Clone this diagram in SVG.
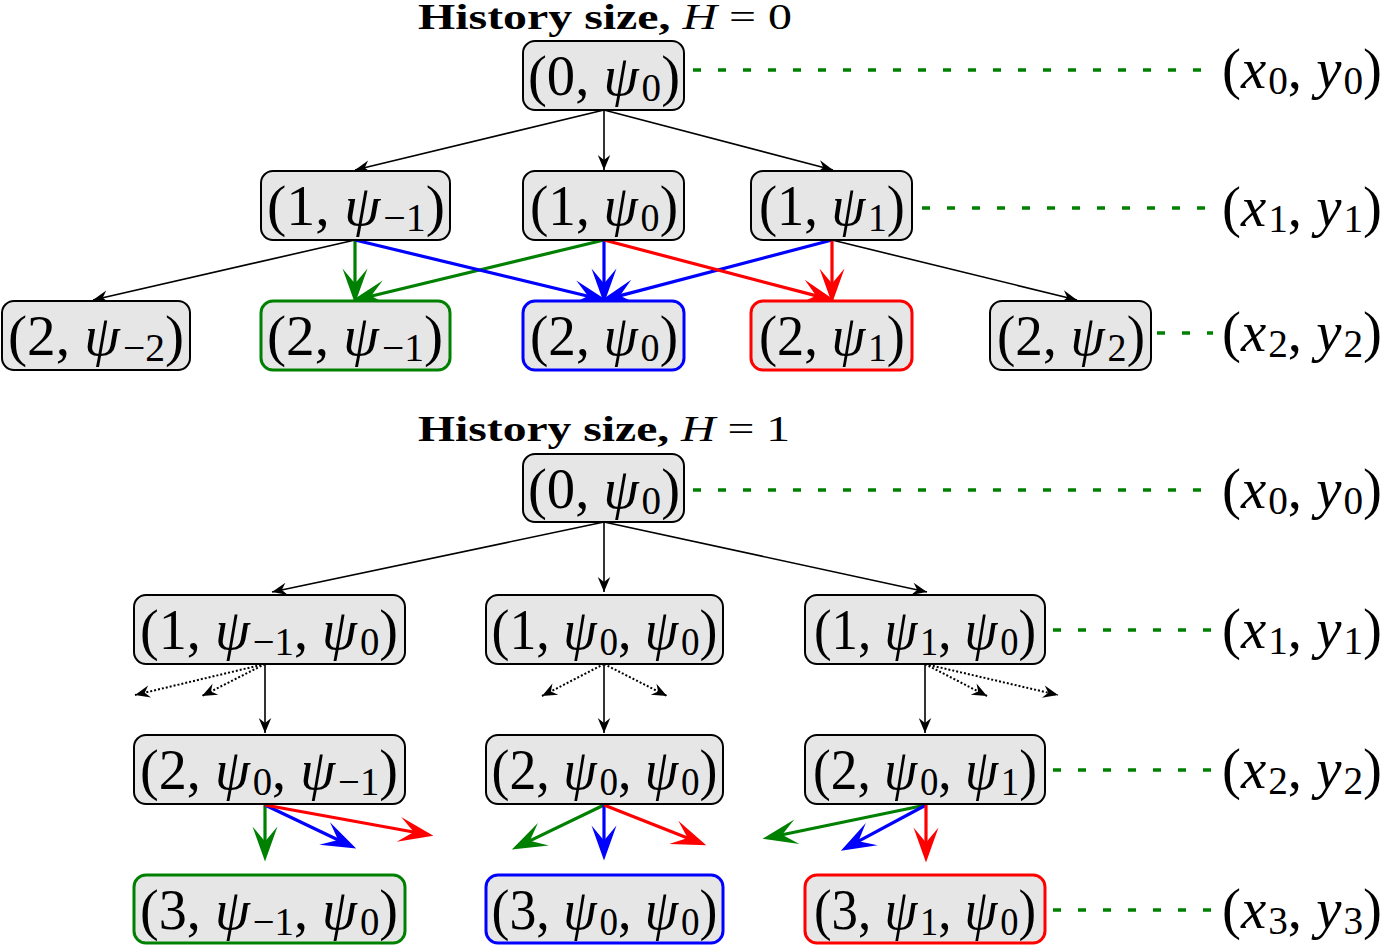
<svg xmlns="http://www.w3.org/2000/svg" width="1384" height="946" viewBox="0 0 1384 946">
<style>
.n{fill:#e6e6e6;stroke:#000;stroke-width:2}
.ng{fill:#e6e6e6;stroke:#008000;stroke-width:3}
.nb{fill:#e6e6e6;stroke:#0000ff;stroke-width:3}
.nr{fill:#e6e6e6;stroke:#ff0000;stroke-width:3}
.t{font-family:"Liberation Serif",serif;font-size:58px;text-anchor:middle;fill:#000}
.l{font-family:"Liberation Serif",serif;font-size:58px;fill:#000}
.ttl{font-family:"Liberation Serif",serif;font-size:35px;fill:#000}
.i{font-style:italic}
.s{font-size:40px}
.k{stroke:#000;stroke-width:1.6;fill:none}
.d{stroke:#000;stroke-width:2;fill:none;stroke-dasharray:2 2}
.g{stroke:#008000;stroke-width:3.2;fill:none}
.b{stroke:#0000ff;stroke-width:3.2;fill:none}
.r{stroke:#ff0000;stroke-width:3.2;fill:none}
.gd{stroke:#008000;stroke-width:3.5;fill:none;stroke-dasharray:8 17}
</style>
<defs>
<marker id="ak" markerUnits="userSpaceOnUse" markerWidth="20" markerHeight="20" viewBox="-14 -8 16 16" refX="0" refY="0" orient="auto"><path d="M0,0 L-12,-5 L-8,0 L-12,5 Z" fill="#000"/></marker>
<marker id="ag" markerUnits="userSpaceOnUse" markerWidth="40" markerHeight="30" viewBox="-16 -12 32 24" refX="0" refY="0" orient="auto"><path d="M14,0 L-14,-10 L-2,0 L-14,10 Z" fill="#008000"/></marker>
<marker id="ab" markerUnits="userSpaceOnUse" markerWidth="40" markerHeight="30" viewBox="-16 -12 32 24" refX="0" refY="0" orient="auto"><path d="M14,0 L-14,-10 L-2,0 L-14,10 Z" fill="#0000ff"/></marker>
<marker id="ar" markerUnits="userSpaceOnUse" markerWidth="40" markerHeight="30" viewBox="-16 -12 32 24" refX="0" refY="0" orient="auto"><path d="M14,0 L-14,-10 L-2,0 L-14,10 Z" fill="#ff0000"/></marker>
</defs>

<text class="ttl" x="418" y="29" textLength="374" lengthAdjust="spacingAndGlyphs"><tspan font-weight="bold">History size, </tspan><tspan class="i">H</tspan> = 0</text>
<text class="ttl" x="418" y="441" textLength="372" lengthAdjust="spacingAndGlyphs"><tspan font-weight="bold">History size, </tspan><tspan class="i">H</tspan> = 1</text>

<g id="connectors">
<line class="k" x1="604" y1="110" x2="355" y2="170" marker-end="url(#ak)"/>
<line class="k" x1="604" y1="110" x2="604" y2="170" marker-end="url(#ak)"/>
<line class="k" x1="604" y1="110" x2="833" y2="170" marker-end="url(#ak)"/>
<line class="k" x1="355" y1="240" x2="93" y2="300" marker-end="url(#ak)"/>
<line class="k" x1="832" y1="240" x2="1077" y2="300" marker-end="url(#ak)"/>
<line class="g" x1="355" y1="240" x2="355" y2="286" marker-end="url(#ag)"/>
<line class="g" x1="604" y1="240" x2="368.6" y2="296.7" marker-end="url(#ag)"/>
<line class="b" x1="355" y1="240" x2="590.4" y2="296.7" marker-end="url(#ab)"/>
<line class="b" x1="604" y1="240" x2="604" y2="286" marker-end="url(#ab)"/>
<line class="b" x1="832" y1="240" x2="617.5" y2="296.4" marker-end="url(#ab)"/>
<line class="r" x1="604" y1="240" x2="818.5" y2="296.4" marker-end="url(#ar)"/>
<line class="r" x1="832" y1="240" x2="832" y2="286" marker-end="url(#ar)"/>
<line class="k" x1="604" y1="522" x2="272" y2="592" marker-end="url(#ak)"/>
<line class="k" x1="604" y1="522" x2="604" y2="592" marker-end="url(#ak)"/>
<line class="k" x1="604" y1="522" x2="927" y2="592" marker-end="url(#ak)"/>
<line class="k" x1="265" y1="664" x2="265" y2="733" marker-end="url(#ak)"/>
<line class="k" x1="604" y1="664" x2="604" y2="733" marker-end="url(#ak)"/>
<line class="k" x1="925" y1="664" x2="925" y2="733" marker-end="url(#ak)"/>
<line class="d" x1="265" y1="664" x2="135" y2="695" marker-end="url(#ak)"/>
<line class="d" x1="265" y1="664" x2="202" y2="696" marker-end="url(#ak)"/>
<line class="d" x1="604" y1="664" x2="542" y2="696" marker-end="url(#ak)"/>
<line class="d" x1="604" y1="664" x2="667" y2="696" marker-end="url(#ak)"/>
<line class="d" x1="925" y1="664" x2="987" y2="696" marker-end="url(#ak)"/>
<line class="d" x1="925" y1="664" x2="1058" y2="695" marker-end="url(#ak)"/>
<line class="g" x1="265" y1="805" x2="265" y2="844" marker-end="url(#ag)"/>
<line class="b" x1="265" y1="805" x2="340.4" y2="841" marker-end="url(#ab)"/>
<line class="r" x1="265" y1="805" x2="416.2" y2="832.5" marker-end="url(#ar)"/>
<line class="g" x1="604" y1="805" x2="527.6" y2="841.9" marker-end="url(#ag)"/>
<line class="b" x1="604" y1="805" x2="604" y2="843" marker-end="url(#ab)"/>
<line class="r" x1="604" y1="805" x2="690" y2="838.9" marker-end="url(#ar)"/>
<line class="g" x1="926" y1="805" x2="779.7" y2="835.2" marker-end="url(#ag)"/>
<line class="b" x1="926" y1="805" x2="856.3" y2="842.4" marker-end="url(#ab)"/>
<line class="r" x1="926" y1="805" x2="926" y2="845" marker-end="url(#ar)"/>
<line class="gd" x1="693" y1="70" x2="1213" y2="70"/>
<line class="gd" x1="922" y1="208" x2="1213" y2="208"/>
<line class="gd" x1="1157" y1="333" x2="1213" y2="333"/>
<line class="gd" x1="693" y1="490" x2="1213" y2="490"/>
<line class="gd" x1="1053" y1="630" x2="1213" y2="630"/>
<line class="gd" x1="1053" y1="770" x2="1213" y2="770"/>
<line class="gd" x1="1053" y1="910" x2="1213" y2="910"/>
</g>

<g id="h0-root"><rect class="n" x="523" y="41" width="161" height="69" rx="12"/><text class="t" x="604" y="95" textLength="152" lengthAdjust="spacingAndGlyphs">(0, <tspan class="i">ψ</tspan><tspan class="s" dx="3" dy="6">0</tspan><tspan dy="-6">)</tspan></text></g>
<g id="h0-1m"><rect class="n" x="261" y="171" width="189" height="69" rx="12"/><text class="t" x="356" y="225" textLength="178" lengthAdjust="spacingAndGlyphs">(1, <tspan class="i">ψ</tspan><tspan class="s" dx="3" dy="6">−1</tspan><tspan dy="-6">)</tspan></text></g>
<g id="h0-10"><rect class="n" x="523" y="171" width="161" height="69" rx="12"/><text class="t" x="604" y="225" textLength="148" lengthAdjust="spacingAndGlyphs">(1, <tspan class="i">ψ</tspan><tspan class="s" dx="3" dy="6">0</tspan><tspan dy="-6">)</tspan></text></g>
<g id="h0-1p"><rect class="n" x="751" y="171" width="161" height="69" rx="12"/><text class="t" x="832" y="225" textLength="146" lengthAdjust="spacingAndGlyphs">(1, <tspan class="i">ψ</tspan><tspan class="s" dx="3" dy="6">1</tspan><tspan dy="-6">)</tspan></text></g>
<g id="h0-2mm"><rect class="n" x="2" y="301" width="188" height="69" rx="12"/><text class="t" x="96" y="355" textLength="176" lengthAdjust="spacingAndGlyphs">(2, <tspan class="i">ψ</tspan><tspan class="s" dx="3" dy="6">−2</tspan><tspan dy="-6">)</tspan></text></g>
<g id="h0-2m"><rect class="ng" x="261" y="301" width="189" height="69" rx="12"/><text class="t" x="355" y="355" textLength="176" lengthAdjust="spacingAndGlyphs">(2, <tspan class="i">ψ</tspan><tspan class="s" dx="3" dy="6">−1</tspan><tspan dy="-6">)</tspan></text></g>
<g id="h0-20"><rect class="nb" x="523" y="301" width="161" height="69" rx="12"/><text class="t" x="604" y="355" textLength="148" lengthAdjust="spacingAndGlyphs">(2, <tspan class="i">ψ</tspan><tspan class="s" dx="3" dy="6">0</tspan><tspan dy="-6">)</tspan></text></g>
<g id="h0-2p"><rect class="nr" x="751" y="301" width="161" height="69" rx="12"/><text class="t" x="832" y="355" textLength="146" lengthAdjust="spacingAndGlyphs">(2, <tspan class="i">ψ</tspan><tspan class="s" dx="3" dy="6">1</tspan><tspan dy="-6">)</tspan></text></g>
<g id="h0-2pp"><rect class="n" x="990" y="301" width="161" height="69" rx="12"/><text class="t" x="1071" y="355" textLength="148" lengthAdjust="spacingAndGlyphs">(2, <tspan class="i">ψ</tspan><tspan class="s" dx="3" dy="6">2</tspan><tspan dy="-6">)</tspan></text></g>

<g id="h1-root"><rect class="n" x="523" y="454" width="161" height="68" rx="12"/><text class="t" x="604" y="508" textLength="152" lengthAdjust="spacingAndGlyphs">(0, <tspan class="i">ψ</tspan><tspan class="s" dx="3" dy="6">0</tspan><tspan dy="-6">)</tspan></text></g>
<g id="h1-1m"><rect class="n" x="134" y="595" width="271" height="69" rx="12"/><text class="t" x="269" y="649" textLength="258" lengthAdjust="spacingAndGlyphs">(1, <tspan class="i">ψ</tspan><tspan class="s" dx="3" dy="6">−1</tspan><tspan dy="-6">, </tspan><tspan class="i">ψ</tspan><tspan class="s" dx="3" dy="6">0</tspan><tspan dy="-6">)</tspan></text></g>
<g id="h1-10"><rect class="n" x="486" y="595" width="237" height="69" rx="12"/><text class="t" x="604.5" y="649" textLength="226" lengthAdjust="spacingAndGlyphs">(1, <tspan class="i">ψ</tspan><tspan class="s" dx="3" dy="6">0</tspan><tspan dy="-6">, </tspan><tspan class="i">ψ</tspan><tspan class="s" dx="3" dy="6">0</tspan><tspan dy="-6">)</tspan></text></g>
<g id="h1-1p"><rect class="n" x="805" y="595" width="240" height="69" rx="12"/><text class="t" x="925" y="649" textLength="222" lengthAdjust="spacingAndGlyphs">(1, <tspan class="i">ψ</tspan><tspan class="s" dx="3" dy="6">1</tspan><tspan dy="-6">, </tspan><tspan class="i">ψ</tspan><tspan class="s" dx="3" dy="6">0</tspan><tspan dy="-6">)</tspan></text></g>
<g id="h1-2m"><rect class="n" x="134" y="735" width="271" height="69" rx="12"/><text class="t" x="269" y="789" textLength="258" lengthAdjust="spacingAndGlyphs">(2, <tspan class="i">ψ</tspan><tspan class="s" dx="3" dy="6">0</tspan><tspan dy="-6">, </tspan><tspan class="i">ψ</tspan><tspan class="s" dx="3" dy="6">−1</tspan><tspan dy="-6">)</tspan></text></g>
<g id="h1-20"><rect class="n" x="486" y="735" width="237" height="69" rx="12"/><text class="t" x="604.5" y="789" textLength="226" lengthAdjust="spacingAndGlyphs">(2, <tspan class="i">ψ</tspan><tspan class="s" dx="3" dy="6">0</tspan><tspan dy="-6">, </tspan><tspan class="i">ψ</tspan><tspan class="s" dx="3" dy="6">0</tspan><tspan dy="-6">)</tspan></text></g>
<g id="h1-2p"><rect class="n" x="805" y="735" width="240" height="69" rx="12"/><text class="t" x="925" y="789" textLength="224" lengthAdjust="spacingAndGlyphs">(2, <tspan class="i">ψ</tspan><tspan class="s" dx="3" dy="6">0</tspan><tspan dy="-6">, </tspan><tspan class="i">ψ</tspan><tspan class="s" dx="3" dy="6">1</tspan><tspan dy="-6">)</tspan></text></g>
<g id="h1-3m"><rect class="ng" x="134" y="875" width="271" height="68" rx="12"/><text class="t" x="269" y="929" textLength="258" lengthAdjust="spacingAndGlyphs">(3, <tspan class="i">ψ</tspan><tspan class="s" dx="3" dy="6">−1</tspan><tspan dy="-6">, </tspan><tspan class="i">ψ</tspan><tspan class="s" dx="3" dy="6">0</tspan><tspan dy="-6">)</tspan></text></g>
<g id="h1-30"><rect class="nb" x="486" y="875" width="237" height="68" rx="12"/><text class="t" x="604.5" y="929" textLength="226" lengthAdjust="spacingAndGlyphs">(3, <tspan class="i">ψ</tspan><tspan class="s" dx="3" dy="6">0</tspan><tspan dy="-6">, </tspan><tspan class="i">ψ</tspan><tspan class="s" dx="3" dy="6">0</tspan><tspan dy="-6">)</tspan></text></g>
<g id="h1-3p"><rect class="nr" x="805" y="875" width="240" height="68" rx="12"/><text class="t" x="925" y="929" textLength="222" lengthAdjust="spacingAndGlyphs">(3, <tspan class="i">ψ</tspan><tspan class="s" dx="3" dy="6">1</tspan><tspan dy="-6">, </tspan><tspan class="i">ψ</tspan><tspan class="s" dx="3" dy="6">0</tspan><tspan dy="-6">)</tspan></text></g>

<g id="labels">
<text class="l" x="1222" y="88" textLength="160" lengthAdjust="spacingAndGlyphs">(<tspan class="i">x</tspan><tspan class="s" dx="2" dy="6">0</tspan><tspan dy="-6">, </tspan><tspan class="i">y</tspan><tspan class="s" dx="2" dy="6">0</tspan><tspan dy="-6">)</tspan></text>
<text class="l" x="1222" y="226" textLength="160" lengthAdjust="spacingAndGlyphs">(<tspan class="i">x</tspan><tspan class="s" dx="2" dy="6">1</tspan><tspan dy="-6">, </tspan><tspan class="i">y</tspan><tspan class="s" dx="2" dy="6">1</tspan><tspan dy="-6">)</tspan></text>
<text class="l" x="1222" y="351" textLength="160" lengthAdjust="spacingAndGlyphs">(<tspan class="i">x</tspan><tspan class="s" dx="2" dy="6">2</tspan><tspan dy="-6">, </tspan><tspan class="i">y</tspan><tspan class="s" dx="2" dy="6">2</tspan><tspan dy="-6">)</tspan></text>
<text class="l" x="1222" y="508" textLength="160" lengthAdjust="spacingAndGlyphs">(<tspan class="i">x</tspan><tspan class="s" dx="2" dy="6">0</tspan><tspan dy="-6">, </tspan><tspan class="i">y</tspan><tspan class="s" dx="2" dy="6">0</tspan><tspan dy="-6">)</tspan></text>
<text class="l" x="1222" y="648" textLength="160" lengthAdjust="spacingAndGlyphs">(<tspan class="i">x</tspan><tspan class="s" dx="2" dy="6">1</tspan><tspan dy="-6">, </tspan><tspan class="i">y</tspan><tspan class="s" dx="2" dy="6">1</tspan><tspan dy="-6">)</tspan></text>
<text class="l" x="1222" y="788" textLength="160" lengthAdjust="spacingAndGlyphs">(<tspan class="i">x</tspan><tspan class="s" dx="2" dy="6">2</tspan><tspan dy="-6">, </tspan><tspan class="i">y</tspan><tspan class="s" dx="2" dy="6">2</tspan><tspan dy="-6">)</tspan></text>
<text class="l" x="1222" y="928" textLength="160" lengthAdjust="spacingAndGlyphs">(<tspan class="i">x</tspan><tspan class="s" dx="2" dy="6">3</tspan><tspan dy="-6">, </tspan><tspan class="i">y</tspan><tspan class="s" dx="2" dy="6">3</tspan><tspan dy="-6">)</tspan></text>
</g>
</svg>
